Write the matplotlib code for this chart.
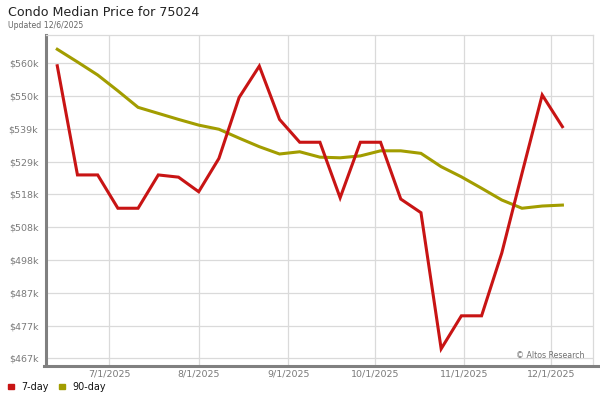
import numpy as np
import pandas as pd
import matplotlib
matplotlib.use('Agg')
import matplotlib.pyplot as plt
import matplotlib.dates as mdates
from matplotlib.lines import Line2D
from matplotlib.patches import Rectangle

# weekly data, in $k
tanggal = pd.date_range('2025-06-13', '2025-12-05', freq='7D')
harga_7 = [559.2, 524.8, 524.8, 514.3, 514.3, 524.8, 524.1, 519.5, 530.0, 549.2,
           559.1, 542.3, 535.1, 535.1, 517.6, 535.1, 535.1, 517.2, 512.9, 470.0,
           480.4, 480.4, 500.2, 525.3, 550.0, 540.0]
harga_90 = [564.4, 560.4, 556.3, 551.3, 546.1, 544.2, 542.3, 540.5, 539.2, 536.4,
            533.7, 531.4, 532.1, 530.4, 530.2, 530.8, 532.4, 532.4, 531.6, 527.4,
            524.2, 520.6, 516.9, 514.3, 515.0, 515.3]
y_label = ['$467k', '$477k', '$487k', '$498k', '$508k', '$518k', '$529k', '$539k', '$550k', '$560k']
x_tick = ['2025-07-01', '2025-08-01', '2025-09-01', '2025-10-01', '2025-11-01', '2025-12-01']
x_label = ['7/1/2025', '8/1/2025', '9/1/2025', '10/1/2025', '11/1/2025', '12/1/2025']

merah = '#c81414'
zaitun = '#a29d00'
abu = '#808080'

W, H = 600, 400
fig = plt.figure(figsize=(6, 4), dpi=100)
ax = fig.add_axes([46/W, 1-365/H, (593-46)/W, 330/H])

x = mdates.date2num(tanggal)
ax.plot(x, harga_90, color=zaitun, linewidth=2.2, solid_joinstyle='miter', zorder=3)
ax.plot(x, harga_7, color=merah, linewidth=2.2, solid_joinstyle='miter', zorder=4)

ax.set_ylim(464.9, 568.9)
ax.set_xlim(x[0]-3.9, x[-1]+10.6)
ax.set_yticks(np.linspace(467, 560, len(y_label)))
ax.set_yticklabels(y_label)
ax.set_xticks(mdates.date2num(pd.to_datetime(x_tick)))
ax.set_xticklabels(x_label)
ax.tick_params(axis='both', length=0, labelsize=6.8, labelcolor='#7a7a7a')
ax.tick_params(axis='y', pad=5.5)
ax.tick_params(axis='x', pad=3.5)
ax.grid(color='#dadada', linewidth=0.9)
ax.set_axisbelow(True)

for s in ['top', 'right']:
    ax.spines[s].set_color('#dadada')
    ax.spines[s].set_linewidth(0.9)
ax.spines['bottom'].set_visible(False)
ax.spines['left'].set_color(abu)
ax.spines['left'].set_linewidth(2.2)

# garis bawah tebal sampai tepi kanan
fig.add_artist(Line2D([44/W, 1.0], [1-365.5/H, 1-365.5/H], color=abu, linewidth=2.2))

ax.text(0.985, 0.03, '\u00a9 Altos Research', transform=ax.transAxes, ha='right', va='center',
        fontsize=5.7, color='#707070')

fig.text(8/W, 1-13/H, 'Condo Median Price for 75024', fontsize=9.1, color='#222222', va='center')
fig.text(8/W, 1-25/H, 'Updated 12/6/2025', fontsize=5.6, color='#666666', va='center')

# legenda
for px, warna, teks in [(8, merah, '7-day'), (59, zaitun, '90-day')]:
    fig.add_artist(Rectangle((px/W, 1-389/H), 5.5/W, 5.5/H, color=warna, transform=fig.transFigure))
    fig.text((px+13)/W, 1-386.5/H, teks, fontsize=6.9, color='#111111', va='center')

plt.savefig('out.png', dpi=100)
